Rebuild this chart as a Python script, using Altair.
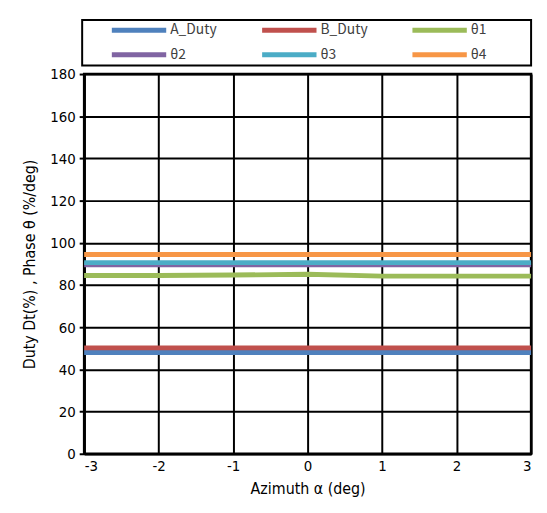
import altair as alt
import pandas as pd

azimuth = [-3, -2, -1, 0, 1, 2, 3]
series_names = ["A_Duty", "B_Duty", "θ1", "θ2", "θ3", "θ4"]
series_colors = ["#4F81BD", "#C0504D", "#9BBB59", "#8064A2", "#4BACC6", "#F79646"]
a_duty = [48.0, 48.0, 48.0, 48.0, 48.0, 48.0, 48.0]
b_duty = [50.2, 50.2, 50.2, 50.2, 50.2, 50.2, 50.2]
theta1 = [84.5, 84.5, 84.7, 85.1, 84.2, 84.2, 84.2]
theta2 = [89.6, 89.6, 89.6, 89.6, 89.6, 89.6, 89.6]
theta3 = [90.6, 90.6, 90.6, 90.6, 90.6, 90.6, 90.6]
theta4 = [94.5, 94.5, 94.5, 94.5, 94.5, 94.5, 94.5]
x_ticks = [-3, -2, -1, 0, 1, 2, 3]
y_ticks = [0, 20, 40, 60, 80, 100, 120, 140, 160, 180]

rows = []
for name, vals in zip(series_names, [a_duty, b_duty, theta1, theta2, theta3, theta4]):
    for i, (x, v) in enumerate(zip(azimuth, vals)):
        rows.append({"series": name, "x": x, "y": v, "idx": i})
df = pd.DataFrame(rows)

FONT = "Liberation Sans Narrow, DejaVu Sans Condensed, Noto Sans CJK JP"
LFONT = "Noto Sans CJK JP"

W, H = 452, 384

lines = alt.Chart(df).mark_line(strokeWidth=5, strokeCap="butt").encode(
    x=alt.X("x:Q", scale=alt.Scale(domain=[-3, 3], nice=False, zero=False),
            axis=alt.Axis(values=x_ticks, title="Azimuth α (deg)",
                          labelExpr="toString(datum.value)")),
    y=alt.Y("y:Q", scale=alt.Scale(domain=[0, 180], nice=False),
            axis=alt.Axis(values=y_ticks, title="Duty Dt(%) , Phase θ (%/deg)")),
    color=alt.Color("series:N", sort=series_names,
                    scale=alt.Scale(domain=series_names, range=series_colors),
                    legend=alt.Legend(
                        title=None, orient="none", legendX=46, legendY=-54,
                        direction="horizontal",
                        columns=3, columnPadding=35, rowPadding=4,
                        symbolType="M-4,0L4,0", symbolSize=189, symbolStrokeWidth=5,
                        labelFont=LFONT, labelFontSize=14, labelColor="#404040",
                        labelOffset=22, padding=0)),
    order=alt.Order("idx:Q"),
    detail="series:N",
)

frame = alt.Chart(pd.DataFrame({"a": [0]})).mark_rect(
    fill=None, stroke="black", strokeWidth=2, clip=False
).encode(
    x=alt.value(-2), x2=alt.value(W), y=alt.value(-54.7), y2=alt.value(-8.7)
)

chart = alt.layer(frame, lines).properties(
    width=W, height=H,
    autosize=alt.AutoSizeParams(type="none"),
    padding={"left": 77, "top": 64, "right": 8, "bottom": 48},
).configure_view(
    stroke="black", strokeWidth=2.5
).configure_axis(
    gridColor="black", gridWidth=2, gridOpacity=1,
    domainColor="black", domainWidth=2.5,
    labelFont=FONT, labelFontSize=15, labelColor="black",
    titleFont=FONT, titleFontSize=16, titleColor="black", titleFontWeight="normal",
    tickColor="black",
).configure_axisX(
    ticks=False, labelPadding=5, titlePadding=7,
).configure_axisY(
    tickSize=5, tickWidth=2, labelPadding=4, titlePadding=12,
)

chart.save("out.html", embed_options={"renderer": "svg", "actions": False})
